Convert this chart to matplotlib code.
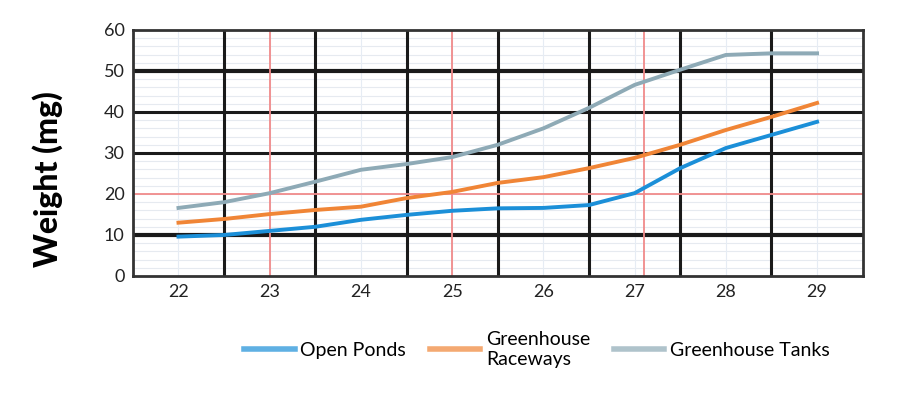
import numpy as np
import matplotlib.pyplot as plt

plt.rcParams['font.family'] = ['Lato', 'DejaVu Sans']

# data (half-day steps)
days = [22, 22.5, 23, 23.5, 24, 24.5, 25, 25.5, 26, 26.5, 27, 27.5, 28, 28.5, 29]
open_ponds = [9.6, 10.0, 11.0, 12.0, 13.7, 14.9, 15.9, 16.5, 16.6, 17.3, 20.2, 26.3, 31.2, 34.4, 37.6]
gh_raceways = [13.0, 13.9, 15.1, 16.1, 16.9, 19.0, 20.5, 22.7, 24.1, 26.3, 28.8, 32.0, 35.6, 38.8, 42.2]
gh_tanks = [16.6, 18.0, 20.2, 23.0, 25.9, 27.3, 29.0, 32.0, 36.0, 41.0, 46.6, 50.3, 53.9, 54.3, 54.3]

x_ticks = [22, 23, 24, 25, 26, 27, 28, 29]
y_ticks = [0, 10, 20, 30, 40, 50, 60]
black_v = [22.5, 23.5, 24.5, 25.5, 26.5, 27.5, 28.5]
black_h = [10, 30, 40, 50]
red_v = [23, 25, 27.1]
red_h = [20]

fig = plt.figure(figsize=(9.1, 3.94), dpi=100)
ax = fig.add_axes([0.146, 0.2995, 0.802, 0.6245])

# faint background grid
for yy in np.arange(0, 60, 2):
    ax.axhline(yy, color='#e6eaf0', lw=0.8, zorder=0)
for xx in x_ticks:
    ax.axvline(xx, color='#e6ecf4', lw=0.8, zorder=0)

for xx in black_v:
    ax.axvline(xx, color='#1a1a1a', lw=2.2, zorder=1)
for yy in black_h:
    lw = 3 if yy in (10, 50) else 2.2
    ax.axhline(yy, color='#1a1a1a', lw=lw, zorder=1)
for xx in red_v:
    ax.axvline(xx, color='#f08a8a', lw=1.3, zorder=1.5)
for yy in red_h:
    ax.axhline(yy, color='#f08a8a', lw=1.3, zorder=1.5)

ax.plot(days, open_ponds, color='#1b8fd8', lw=2.8, label='Open Ponds', zorder=3)
ax.plot(days, gh_raceways, color='#f08536', lw=2.8, label='Greenhouse\nRaceways', zorder=3)
ax.plot(days, gh_tanks, color='#8eaab6', lw=2.8, label='Greenhouse Tanks', zorder=3)

ax.set_xlim(21.5, 29.5)
ax.set_ylim(0, 60)
ax.set_xticks(x_ticks)
ax.set_yticks(y_ticks)
ax.tick_params(length=0, labelsize=13, colors='#222222', pad=6)
for s in ax.spines.values():
    s.set_color('#333333')
    s.set_linewidth(2)
    s.set_zorder(4)

ax.set_ylabel('Weight (mg)', fontsize=23, fontweight='black')
ax.yaxis.set_label_coords(-0.096, 0.394)

leg = fig.legend(loc='upper center', bbox_to_anchor=(0.59, 0.205), ncol=3, frameon=False,
                 fontsize=14, handlelength=2.6, columnspacing=1.2, handletextpad=0.3)
for line in leg.get_lines():
    line.set_alpha(0.7)
    line.set_linewidth(4)

fig.savefig('out.png', dpi=100)
